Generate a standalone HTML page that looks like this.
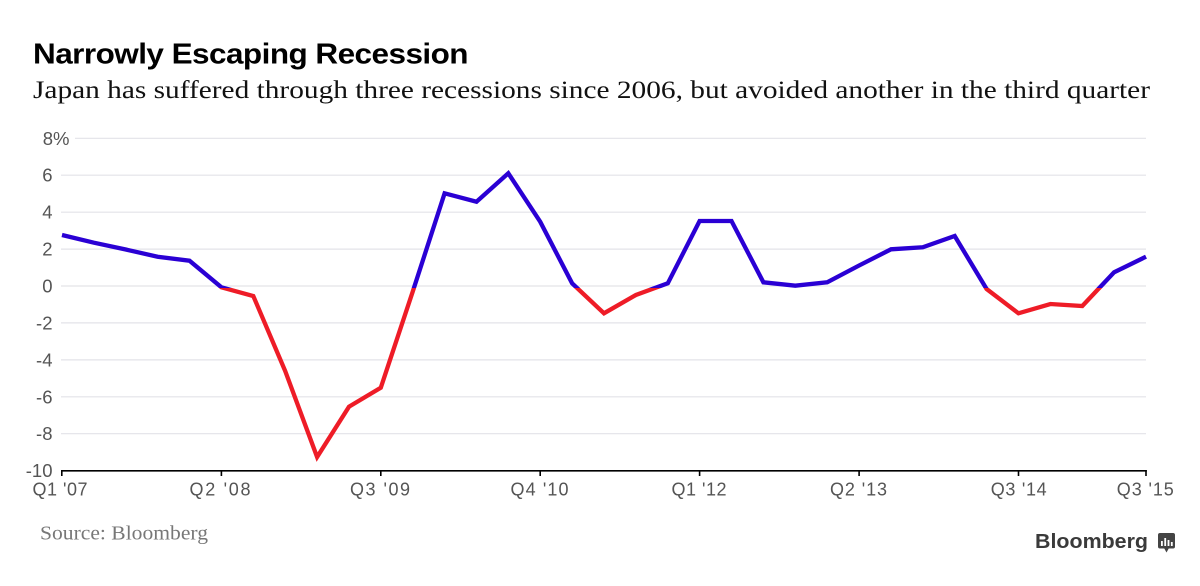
<!DOCTYPE html>
<html><head><meta charset="utf-8"><style>
html,body{margin:0;padding:0;background:#fff;width:1200px;height:586px;overflow:hidden}
svg{display:block}
</style></head><body>
<svg width="1200" height="586" viewBox="0 0 1200 586" xmlns="http://www.w3.org/2000/svg">
<rect width="1200" height="586" fill="#fff"/>
<text x="33" y="63.5" font-family="Liberation Sans, sans-serif" font-weight="bold" font-size="29" fill="#000" textLength="435" lengthAdjust="spacingAndGlyphs" letter-spacing="-0.5">Narrowly Escaping Recession</text>
<text x="33" y="98" font-family="Liberation Serif, serif" font-size="25" fill="#111" textLength="1117" lengthAdjust="spacingAndGlyphs">Japan has suffered through three recessions since 2006, but avoided another in the third quarter</text>
<g stroke="#e3e3e8" stroke-width="1.2">
<line x1="75" y1="138.3" x2="1146" y2="138.3"/>
<line x1="61" y1="175.2" x2="1146" y2="175.2"/>
<line x1="61" y1="212.2" x2="1146" y2="212.2"/>
<line x1="61" y1="249.1" x2="1146" y2="249.1"/>
<line x1="61" y1="286" x2="1146" y2="286"/>
<line x1="61" y1="322.9" x2="1146" y2="322.9"/>
<line x1="61" y1="359.9" x2="1146" y2="359.9"/>
<line x1="61" y1="396.8" x2="1146" y2="396.8"/>
<line x1="61" y1="433.7" x2="1146" y2="433.7"/>
</g>
<g font-family="Liberation Sans, sans-serif" font-size="18.5" fill="#555" text-anchor="end">
<text x="69.5" y="144.8">8%</text>
<text x="52.5" y="181.7">6</text>
<text x="52.5" y="218.7">4</text>
<text x="52.5" y="255.6">2</text>
<text x="52.5" y="292.5">0</text>
<text x="52.5" y="329.4">-2</text>
<text x="52.5" y="366.4">-4</text>
<text x="52.5" y="403.3">-6</text>
<text x="52.5" y="440.2">-8</text>
<text x="52.5" y="477.2">-10</text>
</g>
<g stroke="#000" stroke-width="1.6">
<line x1="61" y1="470.8" x2="1146.8" y2="470.8"/>
<line x1="61.8" y1="470" x2="61.8" y2="476"/>
<line x1="221.4" y1="470" x2="221.4" y2="476"/>
<line x1="380.8" y1="470" x2="380.8" y2="476"/>
<line x1="540.2" y1="470" x2="540.2" y2="476"/>
<line x1="699.6" y1="470" x2="699.6" y2="476"/>
<line x1="859.1" y1="470" x2="859.1" y2="476"/>
<line x1="1018.5" y1="470" x2="1018.5" y2="476"/>
<line x1="1146" y1="470" x2="1146" y2="476"/>
</g>
<g font-family="Liberation Sans, sans-serif" font-size="18" fill="#555" text-anchor="middle">
<text x="60" y="495.5" textLength="55" lengthAdjust="spacing">Q1 '07</text>
<text x="220" y="495.5" textLength="61" lengthAdjust="spacing">Q2 '08</text>
<text x="380" y="495.5" textLength="60" lengthAdjust="spacing">Q3 '09</text>
<text x="539.5" y="495.5" textLength="58" lengthAdjust="spacing">Q4 '10</text>
<text x="699" y="495.5" textLength="55" lengthAdjust="spacing">Q1 '12</text>
<text x="858.5" y="495.5" textLength="57" lengthAdjust="spacing">Q2 '13</text>
<text x="1018.7" y="495.5" textLength="56" lengthAdjust="spacing">Q3 '14</text>
<text x="1145.3" y="495.5" textLength="57" lengthAdjust="spacing">Q3 '15</text>
</g>
<defs>
<linearGradient id="lg" gradientUnits="userSpaceOnUse" x1="0" y1="0" x2="0" y2="586">
<stop offset="0" stop-color="#2a00d4"/>
<stop offset="0.4915" stop-color="#2a00d4"/>
<stop offset="0.4915" stop-color="#ee1c27"/>
<stop offset="1" stop-color="#ee1c27"/>
</linearGradient>
</defs>
<polyline fill="none" stroke="url(#lg)" stroke-width="4.3" stroke-linejoin="miter" stroke-miterlimit="4" points="62,235 93.9,242.7 125.8,249.5 157.6,256.7 189.5,260.7 221.4,287.3 253.3,296 285.2,371 317.1,457 349,406.7 380.8,387.7 412.7,291.7 444.6,193.3 476.5,201.7 508.3,173.3 540.2,221.7 572.1,283.3 604,313.3 635.9,295 667.8,283.3 699.6,221 731.5,221 763.4,282.3 795.3,285.7 827.2,282.3 859.1,265.5 891,249.3 922.8,247.3 954.7,236 986.6,289 1018.5,313.3 1050.4,304 1082.3,306 1114.1,272.3 1146,256.7"/>
<text x="40" y="539.5" font-family="Liberation Serif, serif" font-size="20.5" fill="#777" textLength="168" lengthAdjust="spacingAndGlyphs">Source: Bloomberg</text>
<text x="1035" y="548" font-family="Liberation Sans, sans-serif" font-weight="bold" font-size="20" fill="#3a3a3a" textLength="113" lengthAdjust="spacingAndGlyphs">Bloomberg</text>
<g>
<rect x="1158" y="533" width="17" height="15.5" rx="2" fill="#444"/>
<polygon points="1164,548 1169,548 1166.5,552.5" fill="#444"/>
<rect x="1161" y="541" width="1.8" height="5" fill="#fff"/>
<rect x="1164.3" y="538" width="1.8" height="8" fill="#fff"/>
<rect x="1167.6" y="540" width="1.8" height="6" fill="#fff"/>
<rect x="1170.9" y="542" width="1.8" height="4" fill="#fff"/>
</g>
</svg>
</body></html>
